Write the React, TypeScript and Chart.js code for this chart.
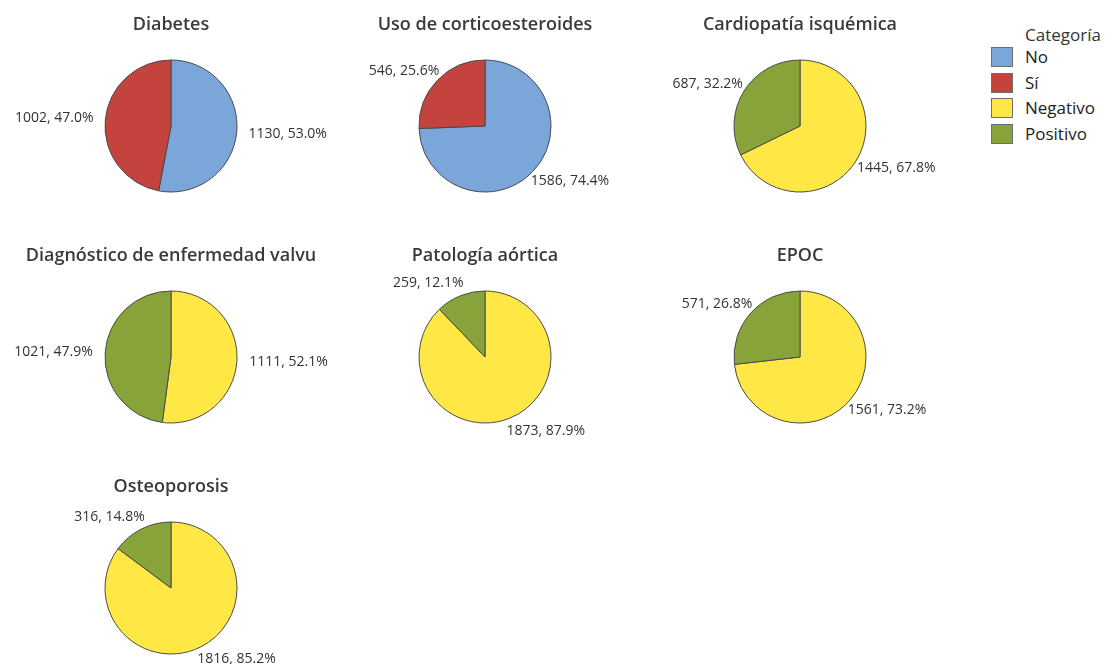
import React, { useEffect, useRef } from "react";
import { Chart, registerables } from "chart.js";

Chart.register(...registerables);

// ---- data ----
const titles = [
  "Diabetes",
  "Uso de corticoesteroides",
  "Cardiopatía isquémica",
  "Diagnóstico de enfermedad valvu",
  "Patología aórtica",
  "EPOC",
  "Osteoporosis",
];
const firstLabels = ["No", "No", "Negativo", "Negativo", "Negativo", "Negativo", "Negativo"];
const secondLabels = ["Sí", "Sí", "Positivo", "Positivo", "Positivo", "Positivo", "Positivo"];
const firstValues = [1130, 1586, 1445, 1111, 1873, 1561, 1816];
const secondValues = [1002, 546, 687, 1021, 259, 571, 316];

const legendTitle = "Categoría";
const legendLabels = ["No", "Sí", "Negativo", "Positivo"];
const categoryColors: Record<string, string> = {
  No: "#7BA6D9",
  "Sí": "#C4433F",
  Negativo: "#FFE845",
  Positivo: "#87A33A",
};

// ---- layout ----
const colCenters = [171, 485, 800];
const rowCenters = [126, 357, 588];
const CELL_W = 340;
const CELL_H = 240;
const RADIUS = 66;
const LABEL_DIST = 80;
const FONT = '"Open Sans", "Noto Sans", sans-serif';

function PieCell({ index }: { index: number }) {
  const ref = useRef<HTMLCanvasElement | null>(null);
  useEffect(() => {
    if (!ref.current) return;
    const labels = [firstLabels[index], secondLabels[index]];
    const values = [firstValues[index], secondValues[index]];
    const title = titles[index];
    const plugin = {
      id: "sliceLabels",
      afterDraw(chart: any) {
        const ctx = chart.ctx;
        const meta = chart.getDatasetMeta(0);
        const data = chart.data.datasets[0].data as number[];
        const total = data.reduce((a, b) => a + b, 0);
        ctx.save();
        ctx.fillStyle = "#333333";
        ctx.font = `14px ${FONT}`;
        ctx.textBaseline = "middle";
        let cx = 0;
        let cy = 0;
        meta.data.forEach((arc: any, i: number) => {
          const p = arc.getProps(["x", "y", "startAngle", "endAngle", "outerRadius"], true);
          cx = p.x;
          cy = p.y;
          const mid = (p.startAngle + p.endAngle) / 2;
          const dx = Math.cos(mid);
          const dy = Math.sin(mid);
          const d = p.outerRadius + (LABEL_DIST - RADIUS);
          const shift = 12 * Math.abs(2 * dx * dy);
          const edge = d * Math.abs(dx) - shift;
          const px = dx >= 0 ? p.x + edge : p.x - edge;
          const py = p.y + dy * d;
          ctx.textAlign = dx >= 0 ? "left" : "right";
          const pct = ((data[i] / total) * 100).toFixed(1);
          ctx.fillText(`${data[i]}, ${pct}%`, px, py);
        });
        ctx.font = `600 18px ${FONT}`;
        ctx.fillStyle = "#3a3a3a";
        ctx.textAlign = "center";
        ctx.fillText(title, cx, cy - 101);
        ctx.restore();
      },
    };
    const chart = new Chart(ref.current, {
      type: "pie",
      data: {
        labels,
        datasets: [
          {
            data: values,
            backgroundColor: labels.map((l) => categoryColors[l]),
            borderColor: "#4a4a4a",
            borderWidth: 1,
          },
        ],
      },
      options: {
        responsive: false,
        animation: false,
        radius: RADIUS,
        events: [],
        layout: { padding: 0 },
        plugins: {
          legend: { display: false },
          tooltip: { enabled: false },
          title: { display: false },
        },
      } as any,
      plugins: [plugin],
    });
    return () => chart.destroy();
  }, [index]);

  const col = index % 3;
  const row = Math.floor(index / 3);
  return (
    <canvas
      ref={ref}
      width={CELL_W}
      height={CELL_H}
      style={{
        position: "absolute",
        left: colCenters[col] - CELL_W / 2,
        top: rowCenters[row] - CELL_H / 2,
        width: CELL_W,
        height: CELL_H,
      }}
    />
  );
}

export default function App() {
  return (
    <div
      style={{
        position: "absolute",
        left: 0,
        top: 0,
        width: 1111,
        height: 664,
        overflow: "hidden",
        background: "#ffffff",
        fontFamily: FONT,
      }}
    >
      {titles.map((_, i) => (
        <PieCell key={i} index={i} />
      ))}
      <div
        style={{
          position: "absolute",
          left: 1025,
          top: 24,
          fontSize: 17,
          lineHeight: "22px",
          color: "#333",
          whiteSpace: "nowrap",
        }}
      >
        {legendTitle}
      </div>
      {legendLabels.map((l, i) => (
        <React.Fragment key={l}>
          <div
            style={{
              position: "absolute",
              left: 991,
              top: 47 + i * 25.7,
              width: 20,
              height: 18,
              background: categoryColors[l],
              border: "1px solid #6e6e6e",
            }}
          />
          <div
            style={{
              position: "absolute",
              left: 1025,
              top: 46 + i * 25.7,
              fontSize: 17,
              lineHeight: "22px",
              color: "#222",
              whiteSpace: "nowrap",
            }}
          >
            {l}
          </div>
        </React.Fragment>
      ))}
    </div>
  );
}
